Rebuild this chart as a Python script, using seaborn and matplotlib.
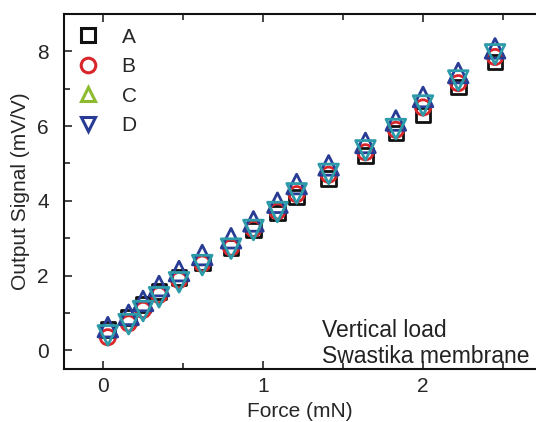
import numpy as np
import pandas as pd
import matplotlib
matplotlib.use("Agg")
import matplotlib.pyplot as plt
from matplotlib.lines import Line2D
from matplotlib.ticker import MultipleLocator
import seaborn as sns

# force (mN) shared by all four sensors
force = [0.03, 0.16, 0.25, 0.35, 0.475, 0.62, 0.80, 0.94, 1.09, 1.21,
         1.41, 1.64, 1.83, 2.00, 2.22, 2.45]

# output signal (mV/V) per sensor
signal_a = [0.55, 0.88, 1.22, 1.58, 1.95, 2.35, 2.75, 3.22, 3.68, 4.10,
            4.60, 5.22, 5.82, 6.30, 7.05, 7.72]
signal_b = [0.35, 0.72, 1.08, 1.48, 1.88, 2.32, 2.75, 3.25, 3.72, 4.18,
            4.70, 5.30, 5.90, 6.50, 7.15, 7.85]
signal_c = [0.62, 0.95, 1.32, 1.72, 2.12, 2.55, 3.00, 3.45, 3.95, 4.45,
            4.95, 5.55, 6.15, 6.78, 7.42, 8.08]
signal_d = [0.40, 0.70, 1.05, 1.42, 1.82, 2.28, 2.72, 3.22, 3.70, 4.20,
            4.72, 5.35, 5.92, 6.55, 7.22, 7.92]

labels = ["A", "B", "C", "D"]
markers = ["s", "o", "^", "v"]
plot_colors = ["#111111", "#d9262b", "#283c95", "#2c9aa8"]
legend_colors = ["#111111", "#d9262b", "#8dbb2e", "#283c95"]

df = pd.DataFrame({
    "force": force * 4,
    "signal": signal_a + signal_b + signal_c + signal_d,
    "sensor": [lab for lab in labels for _ in force],
})

sns.set_theme(style="ticks")
plt.rcParams["font.family"] = ["Liberation Sans", "DejaVu Sans"]

fig = plt.figure(figsize=(5.36, 4.22), dpi=100)
ax = fig.add_axes([0.1194, 0.1256, 0.8806, 0.8412])

sizes = {"s": 110, "o": 120, "^": 200, "v": 200}
for lab, mk, col in zip(labels, markers, plot_colors):
    sub = df[df["sensor"] == lab]
    sns.scatterplot(data=sub, x="force", y="signal", ax=ax, marker=mk,
                    s=sizes[mk], color=col, facecolor="none", edgecolor=col,
                    linewidth=2.0, legend=False, zorder=3)

handles = [Line2D([], [], linestyle="none", marker=mk, markersize=10.5,
                  markerfacecolor="none", markeredgecolor=col, markeredgewidth=2.2)
           for mk, col in zip(markers, legend_colors)]
ax.legend(handles, labels, loc="upper left", frameon=False, fontsize=15,
          handletextpad=0.9, labelspacing=0.5, borderaxespad=0.0,
          handlelength=1.4, bbox_to_anchor=(0.003, 0.985))

ax.set_xlim(-0.244, 2.706)
ax.set_ylim(-0.5, 9.0)
ax.xaxis.set_major_locator(MultipleLocator(1))
ax.xaxis.set_minor_locator(MultipleLocator(0.5))
ax.yaxis.set_major_locator(MultipleLocator(2))
ax.yaxis.set_minor_locator(MultipleLocator(1))
ax.tick_params(which="both", direction="in", top=True, right=False,
               labelsize=15, width=1.2, pad=6)
ax.tick_params(axis="y", which="both", pad=11)
ax.tick_params(which="major", length=6)
ax.tick_params(which="minor", length=4)
for side in ["left", "bottom", "top"]:
    ax.spines[side].set_linewidth(1.5)
    ax.spines[side].set_color("#111111")
ax.spines["right"].set_visible(False)

ax.set_xlabel("Force (mN)", fontsize=15, labelpad=4)
ax.set_ylabel("Output Signal (mV/V)", fontsize=15, labelpad=5)

ax.text(0.547, 0.004, "Vertical load\nSwastika membrane", transform=ax.transAxes,
        ha="left", va="bottom", fontsize=16.5, color="#222222", linespacing=1.15)

fig.savefig("out.png", dpi=100)
